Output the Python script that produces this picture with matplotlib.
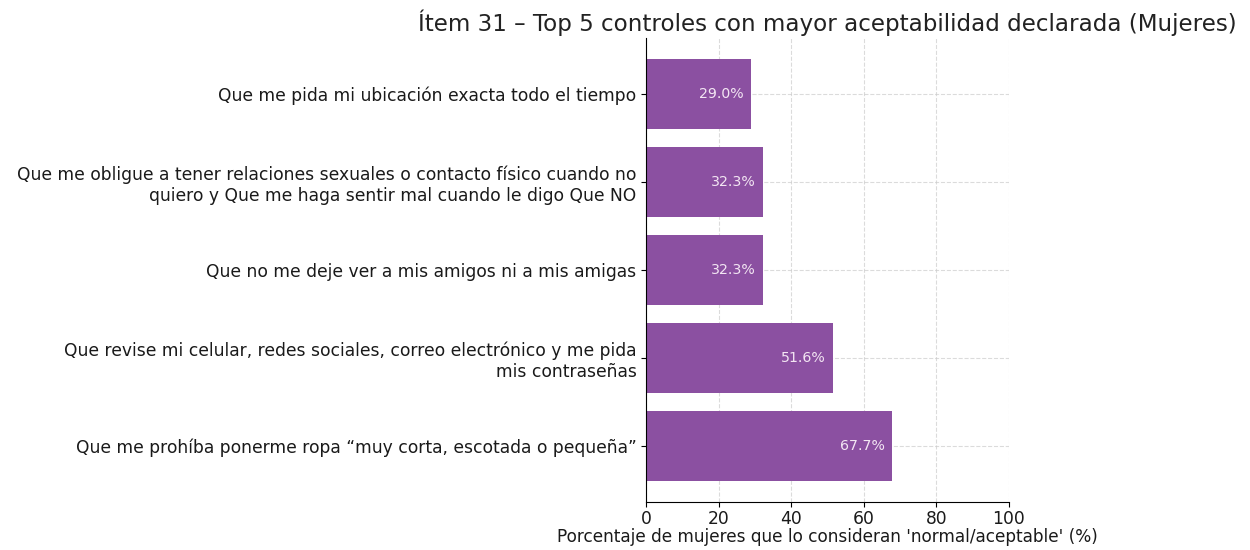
import matplotlib.pyplot as plt

labels = [
    "Que me prohíba ponerme ropa “muy corta, escotada o pequeña”",
    "Que revise mi celular, redes sociales, correo electrónico y me pida\nmis contraseñas",
    "Que no me deje ver a mis amigos ni a mis amigas",
    "Que me obligue a tener relaciones sexuales o contacto físico cuando no\nquiero y Que me haga sentir mal cuando le digo Que NO",
    "Que me pida mi ubicación exacta todo el tiempo",
]
values = [67.7, 51.6, 32.3, 32.3, 29.0]

fig = plt.figure(figsize=(12.5, 5.5), dpi=100, facecolor="w")
ax = fig.add_axes([0.517, 0.087, 0.290, 0.844])

bars = ax.barh(range(len(values)), values, height=0.8, color="#8b50a1")
ax.set_yticks(range(len(values)))
ax.set_yticklabels(labels, fontsize=12.3, color="#1a1a1a")
ax.set_xlim(0, 100)
ax.tick_params(axis="x", labelsize=12.3, labelcolor="#1a1a1a", pad=2.5)

for b, v in zip(bars, values):
    ax.text(v - 2, b.get_y() + b.get_height() / 2, "{0:.1f}%".format(v),
            ha="right", va="center", color="#f3e6f3", fontsize=10.2)

ax.grid(True, linestyle="--", color="#cccccc", alpha=0.7, linewidth=0.8)
ax.set_axisbelow(True)
for s in ["top", "right"]:
    ax.spines[s].set_visible(False)

ax.set_xlabel("Porcentaje de mujeres que lo consideran 'normal/aceptable' (%)",
              fontsize=12.2, color="#1a1a1a", labelpad=0)
ax.set_title("Ítem 31 – Top 5 controles con mayor aceptabilidad declarada (Mujeres)",
             fontsize=16.6, color="#222222", pad=5)

fig.savefig("out.png", dpi=100)
